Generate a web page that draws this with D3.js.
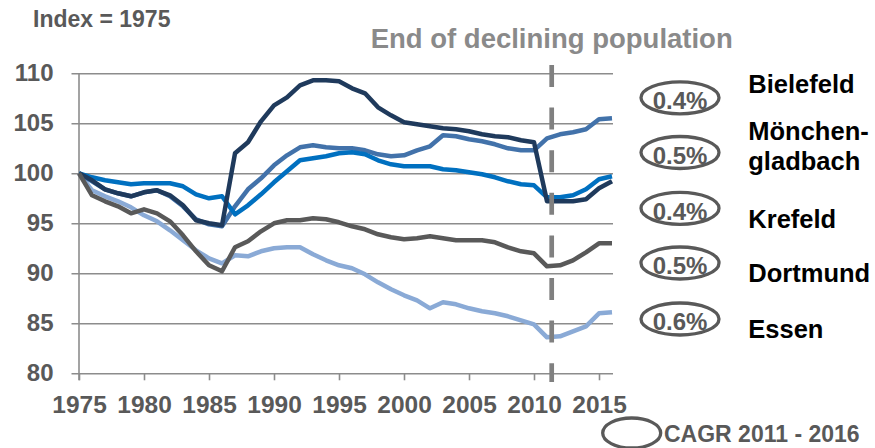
<!DOCTYPE html>
<html>
<head>
<meta charset="utf-8">
<script src="https://cdn.jsdelivr.net/npm/d3@7"></script>
<style>
  body { margin: 0; background: #fff; }
  svg { display: block; font-family: "Liberation Sans", Arial, sans-serif; font-weight: bold; }
</style>
</head>
<body>
<svg id="chart" width="875" height="448"></svg>
<script>
// population index, 1975 = 100
const years = [1975, 1976, 1977, 1978, 1979, 1980, 1981, 1982, 1983, 1984,
               1985, 1986, 1987, 1988, 1989, 1990, 1991, 1992, 1993, 1994,
               1995, 1996, 1997, 1998, 1999, 2000, 2001, 2002, 2003, 2004,
               2005, 2006, 2007, 2008, 2009, 2010, 2011, 2012, 2013, 2014,
               2015, 2016];

const bielefeld = [100.0, 99.2, 98.4, 98.0, 97.7, 98.1, 98.3, 97.7, 96.7, 95.4,
                   94.9, 94.7, 96.7, 98.4, 99.5, 100.8, 101.8, 102.6, 102.8, 102.6,
                   102.5, 102.5, 102.3, 101.9, 101.7, 101.8, 102.3, 102.7, 103.8, 103.7,
                   103.4, 103.2, 102.9, 102.5, 102.3, 102.3, 103.5, 103.9, 104.1, 104.4,
                   105.4, 105.5];
const moenchengladbach = [100.0, 99.6, 99.3, 99.1, 98.9, 99.0, 99.0, 99.0, 98.7, 97.9,
                          97.5, 97.7, 95.9, 96.8, 97.9, 99.1, 100.2, 101.3, 101.5, 101.7,
                          102.0, 102.1, 101.9, 101.3, 100.9, 100.7, 100.7, 100.7, 100.4, 100.3,
                          100.1, 99.9, 99.6, 99.2, 98.9, 98.8, 97.6, 97.6, 97.8, 98.4,
                          99.4, 99.7];
const krefeld = [100.0, 99.3, 98.4, 98.0, 97.7, 98.1, 98.3, 97.8, 96.8, 95.3,
                 95.0, 94.8, 102.0, 103.1, 105.2, 106.8, 107.6, 108.8, 109.3, 109.3,
                 109.2, 108.5, 108.0, 106.6, 105.8, 105.1, 104.9, 104.7, 104.5, 104.4,
                 104.2, 103.9, 103.7, 103.6, 103.3, 103.1, 97.2, 97.2, 97.2, 97.4,
                 98.5, 99.2];
const dortmund = [100.0, 97.8, 97.2, 96.7, 96.0, 96.4, 96.0, 95.2, 93.8, 92.2,
                  90.8, 90.2, 92.6, 93.2, 94.2, 95.0, 95.3, 95.3, 95.5, 95.4,
                  95.1, 94.7, 94.4, 93.9, 93.6, 93.4, 93.5, 93.7, 93.5, 93.3,
                  93.3, 93.3, 93.1, 92.6, 92.2, 92.0, 90.7, 90.8, 91.3, 92.1,
                  93.0, 93.0];
const essen = [100.0, 98.3, 97.7, 97.2, 96.6, 95.8, 95.2, 94.3, 93.3, 92.3,
               91.5, 91.0, 91.8, 91.7, 92.2, 92.5, 92.6, 92.6, 91.9, 91.3,
               90.8, 90.5, 89.9, 89.1, 88.4, 87.8, 87.3, 86.5, 87.1, 86.9,
               86.5, 86.2, 86.0, 85.7, 85.3, 84.9, 83.6, 83.7, 84.2, 84.7,
               86.0, 86.1];

const yTicks = [80, 85, 90, 95, 100, 105, 110];
const xTicks = [1975, 1980, 1985, 1990, 1995, 2000, 2005, 2010, 2015];
const turnYear = 2011;

const legendNames = [["Bielefeld"], ["Mönchen-", "gladbach"], ["Krefeld"], ["Dortmund"], ["Essen"]];
const cagr = ["0.4%", "0.5%", "0.4%", "0.5%", "0.6%"];

// drawing order (bottom first)
const series = [
  {name: "Essen", values: essen, color: "#8aaad6"},
  {name: "Bielefeld", values: bielefeld, color: "#4272aa"},
  {name: "Mönchengladbach", values: moenchengladbach, color: "#0070c0"},
  {name: "Krefeld", values: krefeld, color: "#1f3a5c"},
  {name: "Dortmund", values: dortmund, color: "#595959"},
];

const svg = d3.select("#chart");
const grey = "#8c8c8c";
const textGrey = "#595959";

const x = d3.scaleLinear().domain([1975, 2016]).range([79, 612]);
const y = d3.scaleLinear().domain([80, 110]).range([373.3, 73.3]);

// y grid + labels
const yAxis = svg.append("g")
    .attr("transform", "translate(71.5,0)")
    .call(d3.axisLeft(y).tickValues(yTicks).tickSize(-(613 - 71.5)).tickPadding(18).tickFormat(d3.format("d")));
yAxis.select(".domain").remove();
yAxis.selectAll(".tick line").attr("stroke", grey).attr("stroke-width", 1.6);
yAxis.selectAll(".tick text")
    .attr("fill", textGrey)
    .style("font-size", "24px")
    .style("font-family", "'Liberation Sans', Arial, sans-serif")
    .style("font-weight", "bold");

// x axis
const xAxis = svg.append("g")
    .attr("transform", `translate(0,${y(80)})`)
    .call(d3.axisBottom(x).tickValues(xTicks).tickSize(7).tickSizeOuter(0).tickPadding(15.5).tickFormat(d3.format("d")));
xAxis.select(".domain").remove();
xAxis.selectAll(".tick line").attr("stroke", grey).attr("stroke-width", 1.6);
xAxis.selectAll(".tick text")
    .attr("fill", textGrey)
    .style("font-size", "24.5px")
    .style("font-family", "'Liberation Sans', Arial, sans-serif")
    .style("font-weight", "bold");

// vertical axis line
svg.append("line")
    .attr("x1", x(1975)).attr("x2", x(1975))
    .attr("y1", y(110)).attr("y2", y(80) + 7)
    .attr("stroke", grey).attr("stroke-width", 1.6);

// series lines
const line = d3.line()
    .x((d, i) => x(years[i]))
    .y(d => y(d));

svg.append("g").selectAll("path")
  .data(series)
  .join("path")
    .attr("d", d => line(d.values))
    .attr("fill", "none")
    .attr("stroke", d => d.color)
    .attr("stroke-width", 4.5)
    .attr("stroke-linejoin", "round");

// dashed marker
const turnX = x(turnYear) + 4.7;
svg.append("line")
    .attr("x1", turnX).attr("x2", turnX)
    .attr("y1", 65).attr("y2", 382)
    .attr("stroke", "#808080")
    .attr("stroke-width", 4.7)
    .attr("stroke-dasharray", "22 20.6");

svg.append("text")
    .attr("x", turnX).attr("y", 48.3)
    .attr("text-anchor", "middle")
    .attr("fill", "#8a8a8a")
    .style("font-size", "27.5px")
    .text("End of declining population");

svg.append("text")
    .attr("x", 33).attr("y", 27)
    .attr("fill", textGrey)
    .style("font-size", "23px")
    .text("Index = 1975");

// legend
const ellipseY = [97.8, 152.5, 208.3, 263, 319];
const nameY = [[93.3], [140, 170], [228.3], [281.7], [338.3]];

const leg = svg.append("g").selectAll("g")
  .data(cagr)
  .join("g");

leg.append("ellipse")
    .attr("cx", 680).attr("cy", (d, i) => ellipseY[i])
    .attr("rx", 39).attr("ry", 16)
    .attr("fill", "#fff")
    .attr("stroke", textGrey)
    .attr("stroke-width", 3.3);

leg.append("text")
    .attr("x", 680).attr("y", (d, i) => ellipseY[i] + 11.3)
    .attr("text-anchor", "middle")
    .attr("fill", textGrey)
    .style("font-size", "24px")
    .text(d => d);

leg.each(function(d, i) {
  d3.select(this).selectAll("text.name")
    .data(legendNames[i])
    .join("text")
      .attr("class", "name")
      .attr("x", 748.3)
      .attr("y", (t, j) => nameY[i][j])
      .attr("fill", "#000")
      .style("font-size", "25.5px")
      .text(t => t);
});

// CAGR key
svg.append("ellipse")
    .attr("cx", 631.7).attr("cy", 433)
    .attr("rx", 29).attr("ry", 15)
    .attr("fill", "none")
    .attr("stroke", textGrey)
    .attr("stroke-width", 3.3);

svg.append("text")
    .attr("x", 664).attr("y", 442)
    .attr("fill", textGrey)
    .style("font-size", "23px")
    .text("CAGR 2011 - 2016");
</script>
</body>
</html>
